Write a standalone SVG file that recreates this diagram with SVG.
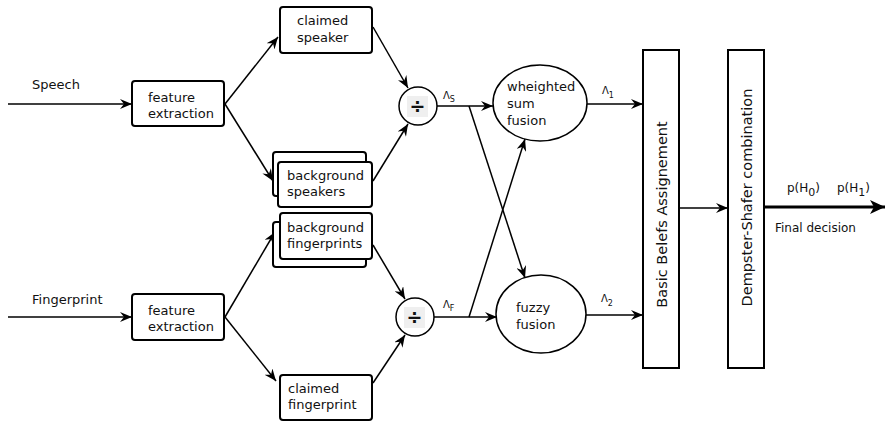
<svg xmlns="http://www.w3.org/2000/svg" width="886" height="424" viewBox="0 0 886 424">
<defs>
<style>
text{font-family:"DejaVu Sans",Verdana,sans-serif;fill:#111}
.lbl{font-size:13px}
.big{font-size:14.5px}
.sm{font-size:10px}
.sub{font-size:8px}
.box{fill:#fff;stroke:#000;stroke-width:2}
.ell{fill:#fff;stroke:#000;stroke-width:1.5}
.ln{fill:none;stroke:#000;stroke-width:1.5}
.bar{fill:#fff;stroke:#000;stroke-width:2}
</style>
<marker id="ah" markerUnits="userSpaceOnUse" markerWidth="13" markerHeight="10" refX="12" refY="5" orient="auto">
<path d="M0,0 L12,5 L0,10 L4,5 z" fill="#000"/>
</marker>
<marker id="ahb" markerUnits="userSpaceOnUse" markerWidth="16" markerHeight="14" refX="15" refY="7" orient="auto">
<path d="M0,0 L15,7 L0,14 L4,7 z" fill="#000"/>
</marker>
</defs>
<rect width="886" height="424" fill="#fff"/>

<g id="connectors">
<line class="ln" x1="8" y1="104" x2="132" y2="104" marker-end="url(#ah)"/>
<line class="ln" x1="8" y1="317" x2="132" y2="317" marker-end="url(#ah)"/>
<line class="ln" x1="225" y1="104" x2="278" y2="37" marker-end="url(#ah)"/>
<line class="ln" x1="225" y1="104" x2="273" y2="181" marker-end="url(#ah)"/>
<line class="ln" x1="225" y1="317" x2="275" y2="232" marker-end="url(#ah)"/>
<line class="ln" x1="225" y1="317" x2="276" y2="381" marker-end="url(#ah)"/>
<line class="ln" x1="373" y1="27" x2="408" y2="88" marker-end="url(#ah)"/>
<line class="ln" x1="373" y1="181" x2="408" y2="124" marker-end="url(#ah)"/>
<line class="ln" x1="373" y1="245" x2="405" y2="299" marker-end="url(#ah)"/>
<line class="ln" x1="373" y1="383" x2="405" y2="335" marker-end="url(#ah)"/>
<line class="ln" x1="437" y1="106" x2="493" y2="106" marker-end="url(#ah)"/>
<line class="ln" x1="434" y1="317" x2="497" y2="317" marker-end="url(#ah)"/>
<line class="ln" x1="469" y1="106" x2="525" y2="278" marker-end="url(#ah)"/>
<line class="ln" x1="469" y1="317" x2="525" y2="139" marker-end="url(#ah)"/>
<line class="ln" x1="585" y1="104" x2="643" y2="104" marker-end="url(#ah)"/>
<line class="ln" x1="583" y1="315" x2="643" y2="315" marker-end="url(#ah)"/>
<line class="ln" x1="679" y1="208" x2="728" y2="208" marker-end="url(#ah)"/>
<line fill="none" stroke="#000" stroke-width="3" x1="764" y1="207" x2="885" y2="207" marker-end="url(#ahb)"/>
</g>

<g id="labels">
<text class="lbl" x="32" y="89">Speech</text>
<text class="lbl" x="32" y="304">Fingerprint</text>
<text class="sm" x="443" y="99">Λ<tspan class="sub" dy="3">S</tspan></text>
<text class="sm" x="443" y="308">Λ<tspan class="sub" dy="3">F</tspan></text>
<text class="sm" x="602" y="94">Λ<tspan class="sub" dy="4">1</tspan></text>
<text class="sm" x="601" y="302">Λ<tspan class="sub" dy="4">2</tspan></text>
<text style="font-size:12px" x="787" y="192">p(H<tspan style="font-size:11px" dy="4">0</tspan><tspan dy="-4">)</tspan></text>
<text style="font-size:12px" x="837" y="192">p(H<tspan style="font-size:11px" dy="4">1</tspan><tspan dy="-4">)</tspan></text>
<text style="font-size:12px" x="775" y="232">Final decision</text>
</g>

<g id="fe-speech">
<rect class="box" x="132" y="81" width="92" height="45" rx="3"/>
<text class="lbl" x="148" y="102">feature</text>
<text class="lbl" x="148" y="118">extraction</text>
</g>

<g id="fe-finger">
<rect class="box" x="132" y="294" width="92" height="46" rx="3"/>
<text class="lbl" x="148" y="315">feature</text>
<text class="lbl" x="148" y="331">extraction</text>
</g>

<g id="claimed-speaker">
<rect class="box" x="280" y="7" width="92" height="46" rx="3"/>
<text class="lbl" x="297" y="25">claimed</text>
<text class="lbl" x="297" y="42">speaker</text>
</g>

<g id="background-speakers">
<rect class="box" x="273" y="152" width="93" height="44" rx="3"/>
<rect class="box" x="278" y="162" width="94" height="45" rx="3"/>
<text class="lbl" x="287" y="180">background</text>
<text class="lbl" x="287" y="196">speakers</text>
</g>

<g id="background-fingerprints">
<rect class="box" x="273" y="222" width="93" height="45" rx="3"/>
<rect class="box" x="280" y="213" width="92" height="46" rx="3"/>
<text class="lbl" x="287" y="232">background</text>
<text class="lbl" x="287" y="248">fingerprints</text>
</g>

<g id="claimed-fingerprint">
<rect class="box" x="280" y="375" width="92" height="45" rx="3"/>
<text class="lbl" x="288" y="393">claimed</text>
<text class="lbl" x="288" y="409">fingerprint</text>
</g>

<g id="div-speech">
<circle class="ell" cx="418" cy="106" r="19"/>
<rect x="407" y="96" width="21" height="21" fill="#efefef"/>
<text x="417.5" y="112.5" style="font-size:19px;font-weight:bold" text-anchor="middle">÷</text>
</g>

<g id="div-finger">
<circle class="ell" cx="415" cy="317" r="19"/>
<rect x="404" y="307" width="21" height="21" fill="#efefef"/>
<text x="414.5" y="323.5" style="font-size:19px;font-weight:bold" text-anchor="middle">÷</text>
</g>

<g id="weighted-sum">
<ellipse class="ell" cx="540" cy="103" rx="47" ry="38"/>
<text class="lbl" x="507" y="91">wheighted</text>
<text class="lbl" x="507" y="108">sum</text>
<text class="lbl" x="507" y="125">fusion</text>
</g>

<g id="fuzzy">
<ellipse class="ell" cx="541" cy="314" rx="45" ry="39"/>
<text class="lbl" x="516" y="312">fuzzy</text>
<text class="lbl" x="516" y="329">fusion</text>
</g>

<g id="bba">
<rect class="bar" x="643" y="50" width="36" height="318"/>
<text class="big" transform="translate(667,214.5) rotate(-90)" text-anchor="middle">Basic Belefs Assignement</text>
</g>

<g id="dempster">
<rect class="bar" x="728" y="50" width="36" height="318"/>
<text class="big" transform="translate(752,197.5) rotate(-90)" text-anchor="middle">Dempster-Shafer combination</text>
</g>
</svg>
